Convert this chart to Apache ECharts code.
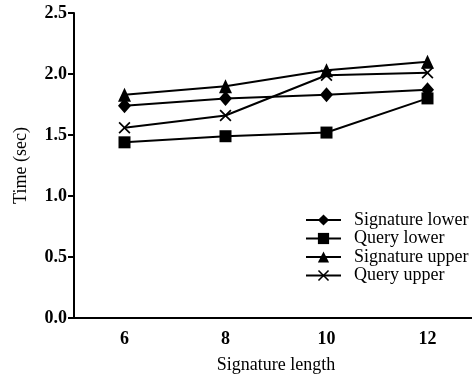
<!DOCTYPE html>
<html>
<head>
<meta charset="utf-8">
<script src="https://cdn.jsdelivr.net/npm/echarts@6/dist/echarts.min.js"></script>
<style>
  html, body { margin: 0; padding: 0; background: #fff; }
  #main { width: 472px; height: 376px; }
</style>
</head>
<body>
<div id="main"></div>
<script>
var lengths = ["6", "8", "10", "12"];
var sigLower = [1.74, 1.80, 1.83, 1.87];
var queryLower = [1.44, 1.49, 1.52, 1.80];
var sigUpper = [1.83, 1.90, 2.03, 2.10];
var queryUpper = [1.56, 1.66, 1.99, 2.01];

var crossPath = "path://M0,1L1,0L5,4L9,0L10,1L6,5L10,9L9,10L5,6L1,10L0,9L4,5Z";
var font = "Liberation Serif";

function mk(name, data, symbol, size) {
  return {
    name: name,
    type: "line",
    data: data,
    symbol: symbol,
    symbolSize: size,
    lineStyle: { color: "#000", width: 2 },
    itemStyle: { color: "#000" },
    emphasis: { disabled: true }
  };
}

var chart = echarts.init(document.getElementById("main"));
var option = {
  animation: false,
  backgroundColor: "#fff",
  grid: { left: 74, top: 13, bottom: 58, width: 404, outerBoundsMode: "none", containLabel: false },
  legend: {
    orient: "vertical",
    left: 300,
    top: 206,
    itemWidth: 35,
    itemHeight: 14,
    itemGap: 0.5,
    textStyle: { fontFamily: font, fontSize: 18, lineHeight: 18, color: "#000", padding: [0, 0, 0, 8] },
    data: ["Signature lower", "Query lower", "Signature upper", "Query upper"]
  },
  xAxis: {
    type: "category",
    data: lengths,
    name: "Signature length",
    nameLocation: "middle",
    nameGap: 38,
    nameTextStyle: { fontFamily: font, fontSize: 18, color: "#000" },
    axisLine: { lineStyle: { color: "#000", width: 2 } },
    axisTick: { lineStyle: { color: "#000", width: 2 }, length: 5 },
    axisLabel: { fontFamily: font, fontSize: 18, fontWeight: "bold", color: "#000", margin: 12 }
  },
  yAxis: {
    type: "value",
    min: 0,
    max: 2.5,
    interval: 0.5,
    name: "Time (sec)",
    nameLocation: "middle",
    nameGap: 44,
    nameTextStyle: { fontFamily: font, fontSize: 18, color: "#000" },
    splitLine: { show: false },
    axisLine: { show: true, lineStyle: { color: "#000", width: 2 } },
    axisTick: { show: true, lineStyle: { color: "#000", width: 2 }, length: 6 },
    axisLabel: {
      fontFamily: font, fontSize: 18, fontWeight: "bold", color: "#000", margin: 7,
      formatter: function (v) { return v.toFixed(1); }
    }
  },
  series: [
    mk("Signature lower", sigLower, "diamond", [13, 15]),
    mk("Query lower", queryLower, "rect", 12),
    mk("Signature upper", sigUpper, "triangle", [13, 14]),
    mk("Query upper", queryUpper, crossPath, 12)
  ]
};
chart.setOption(option);
</script>
</body>
</html>
